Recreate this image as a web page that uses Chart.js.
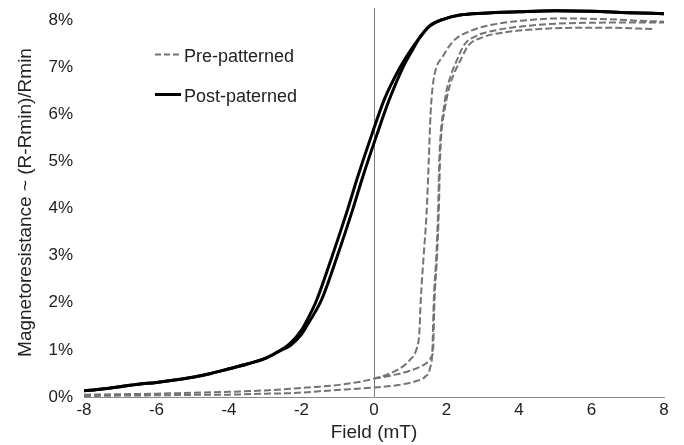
<!DOCTYPE html>
<html>
<head>
<meta charset="utf-8">
<script src="https://cdn.jsdelivr.net/npm/chart.js@4.4.1/dist/chart.umd.min.js"></script>
<style>
  body { margin: 0; background: #fff; }
  #wrap { width: 684px; height: 445px; }
</style>
</head>
<body>
<div id="wrap"><canvas id="myChart"></canvas></div>
<script>
// series names (legend)
var seriesNames = ['Pre-patterned', 'Post-paterned'];

// Pre-patterned: first sweep, starts at 0 mT
var preFirstField = [0, 0.3, 0.63, 1.0, 1.27, 1.45, 1.54, 1.6, 1.63, 1.67, 1.74, 1.79, 1.82, 1.86, 1.95, 2.05, 2.2, 2.38, 2.6, 2.97, 3.57, 4.49, 5.59, 6.5, 7.75];
var preFirstMR = [0.39, 0.43, 0.48, 0.56, 0.64, 0.72, 0.8, 0.88, 0.99, 2.06, 3.0, 4.0, 5.0, 5.6, 6.1, 6.5, 6.85, 7.14, 7.46, 7.63, 7.74, 7.81, 7.84, 7.84, 7.81];

// Pre-patterned: sweep down (+8 -> -8)
var preDownField = [-8, -7, -6, -5, -4, -3, -2.2, -1.5, -0.85, 0, 0.63, 0.98, 1.19, 1.25, 1.29, 1.37, 1.45, 1.51, 1.56, 1.62, 1.72, 1.87, 2.19, 2.65, 3.29, 4.21, 5.12, 6.5, 7.3, 8];
var preDownMR = [0.05, 0.06, 0.07, 0.09, 0.11, 0.14, 0.18, 0.22, 0.27, 0.39, 0.57, 0.78, 1.06, 1.35, 2.06, 3.0, 3.9, 5.0, 6.0, 6.6, 7.0, 7.2, 7.56, 7.77, 7.91, 8.0, 8.04, 8.02, 7.99, 7.97];

// Pre-patterned: sweep up (-8 -> +8)
var preUpField = [-8, -7, -6, -5, -4, -3, -2.2, -1.2, -0.6, 0, 0.63, 1.17, 1.41, 1.54, 1.61, 1.65, 1.72, 1.77, 1.8, 1.84, 1.92, 2.0, 2.13, 2.28, 2.5, 2.83, 3.38, 4.21, 5.12, 6.5, 8];
var preUpMR = [0.02, 0.03, 0.036, 0.045, 0.05, 0.07, 0.085, 0.14, 0.17, 0.2, 0.25, 0.34, 0.43, 0.6, 1.0, 2.06, 3.0, 4.0, 5.0, 5.6, 6.1, 6.5, 6.85, 7.14, 7.49, 7.67, 7.79, 7.88, 7.93, 7.95, 7.95];

// Post-paterned: two branches
var postDownField = [-8, -7.5, -7, -6.5, -6, -5.5, -5, -4.5, -4, -3.5, -3, -2.6, -2.3, -2.0, -1.8, -1.58, -1.15, -0.72, -0.46, -0.07, 0.28, 0.72, 1.0, 1.26, 1.54, 1.91, 2.37, 3, 4, 5, 6, 7, 8];
var postDownMR = [0.13, 0.17, 0.22, 0.27, 0.31, 0.36, 0.42, 0.5, 0.6, 0.7, 0.82, 0.98, 1.15, 1.42, 1.7, 2.06, 3.0, 4.0, 4.65, 5.55, 6.31, 7.0, 7.35, 7.63, 7.88, 8.02, 8.11, 8.15, 8.18, 8.2, 8.19, 8.16, 8.14];
var postUpField = [-8, -7.5, -7, -6.5, -6, -5.5, -5, -4.5, -4, -3.5, -3, -2.6, -2.3, -2.0, -1.8, -1.45, -1.01, -0.58, -0.32, 0.07, 0.42, 0.8, 1.05, 1.26, 1.54, 1.91, 2.37, 3, 4, 5, 6, 7, 8];
var postUpMR = [0.13, 0.17, 0.22, 0.27, 0.31, 0.36, 0.42, 0.5, 0.6, 0.7, 0.82, 0.98, 1.1, 1.33, 1.58, 2.06, 3.0, 4.0, 4.65, 5.55, 6.31, 7.0, 7.35, 7.63, 7.88, 8.02, 8.11, 8.15, 8.18, 8.2, 8.19, 8.16, 8.14];

// tick labels
var xTicks = [-8, -6, -4, -2, 0, 2, 4, 6, 8];
var yTicks = [0, 1, 2, 3, 4, 5, 6, 7, 8];

function pts(xs, ys) {
    var out = [];
    for (var i = 0; i < xs.length; i++) {
        out.push({x: xs[i], y: ys[i]});
    }
    return out;
}

var grayDash = {
    borderColor: '#737373',
    borderWidth: 2,
    borderDash: [7, 3]
};
var blackLine = {
    borderColor: '#000000',
    borderWidth: 3,
    borderDash: []
};

var datasets = [
    Object.assign({label: seriesNames[0], data: pts(preFirstField, preFirstMR)}, grayDash),
    Object.assign({label: seriesNames[0], data: pts(preDownField, preDownMR)}, grayDash),
    Object.assign({label: seriesNames[0], data: pts(preUpField, preUpMR)}, grayDash),
    Object.assign({label: seriesNames[1], data: pts(postDownField, postDownMR)}, blackLine),
    Object.assign({label: seriesNames[1], data: pts(postUpField, postUpMR)}, blackLine)
];

var fontFam = '"Liberation Sans", Arial, sans-serif';
var textColor = '#222222';

// legend drawn inside the plot area, one entry per series
var insideLegend = {
    id: 'insideLegend',
    afterDraw: function (chart) {
        var ctx = chart.ctx;
        var items = [
            {text: seriesNames[0], ds: datasets[0], y: 56},
            {text: seriesNames[1], ds: datasets[3], y: 96}
        ];
        ctx.save();
        ctx.font = '18px ' + fontFam;
        ctx.textBaseline = 'middle';
        items.forEach(function (it) {
            ctx.beginPath();
            ctx.strokeStyle = it.ds.borderColor;
            ctx.lineWidth = it.ds.borderDash.length ? 2 : 3;
            ctx.setLineDash(it.ds.borderDash.length ? [6, 3] : []);
            ctx.moveTo(155, it.y - 1.5);
            ctx.lineTo(181, it.y - 1.5);
            ctx.stroke();
            ctx.setLineDash([]);
            ctx.fillStyle = textColor;
            ctx.fillText(it.text, 184, it.y + 1);
        });
        ctx.restore();
    }
};

var ctx = document.getElementById('myChart').getContext('2d');
var myChart = new Chart(ctx, {
    type: 'scatter',
    data: {datasets: datasets},
    plugins: [insideLegend],
    options: {
        responsive: true,
        maintainAspectRatio: false,
        animation: false,
        showLine: true,
        layout: {padding: {top: 8, right: 20, left: 0, bottom: 0}},
        elements: {
            point: {radius: 0},
            line: {cubicInterpolationMode: 'monotone', fill: false}
        },
        plugins: {
            legend: {display: false},
            tooltip: {enabled: false}
        },
        scales: {
            x: {
                type: 'linear',
                min: -8,
                max: 8,
                afterBuildTicks: function (s) {
                    s.ticks = xTicks.map(function (v) { return {value: v}; });
                },
                afterFit: function (s) { s.height = 48; },
                ticks: {
                    color: textColor,
                    padding: 3,
                    font: {family: fontFam, size: 17}
                },
                grid: {
                    drawTicks: false,
                    lineWidth: 1,
                    color: function (c) {
                        return (c.tick && c.tick.value === 0) ? '#7a7a7a' : 'rgba(0,0,0,0)';
                    }
                },
                border: {display: true, color: '#8a8a8a', width: 1},
                title: {
                    display: true,
                    text: 'Field (mT)',
                    color: textColor,
                    padding: {top: 0, bottom: 1},
                    font: {family: fontFam, size: 19}
                }
            },
            y: {
                type: 'linear',
                min: 0,
                max: 8.26,
                afterBuildTicks: function (s) {
                    s.ticks = yTicks.map(function (v) { return {value: v}; });
                },
                afterFit: function (s) {
                    s.width = 84;
                    // the 8% label sits below the top edge, no extra room needed
                    s.paddingTop = 0;
                    s.paddingBottom = 0;
                },
                ticks: {
                    color: textColor,
                    padding: 11,
                    font: {family: fontFam, size: 17},
                    callback: function (v) { return v + '%'; }
                },
                grid: {display: false, drawTicks: false},
                border: {display: false},
                title: {
                    display: true,
                    text: 'Magnetoresistance ~ (R-Rmin)/Rmin',
                    color: textColor,
                    padding: {top: 14, bottom: 0},
                    font: {family: fontFam, size: 19}
                }
            }
        }
    }
});
</script>
</body>
</html>
